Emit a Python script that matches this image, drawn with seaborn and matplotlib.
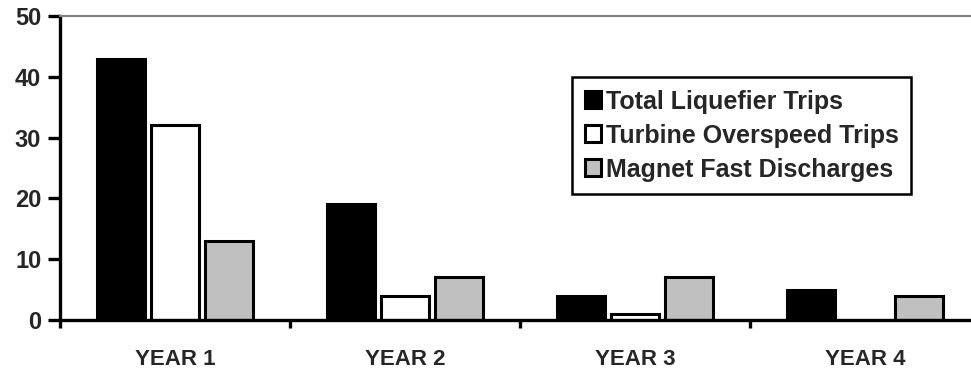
import numpy as np
import pandas as pd
import matplotlib
matplotlib.use("Agg")
import matplotlib.pyplot as plt
import seaborn as sns

years = ["YEAR 1", "YEAR 2", "YEAR 3", "YEAR 4"]
liquefier_trips = [43, 19, 4, 5]
overspeed_trips = [32, 4, 1, np.nan]
fast_discharges = [13, 7, 7, 4]
series_names = ["Total Liquefier Trips", "Turbine Overspeed Trips", "Magnet Fast Discharges"]
yticks = [0, 10, 20, 30, 40, 50]

df = pd.DataFrame({
    "year": years * 3,
    "count": liquefier_trips + overspeed_trips + fast_discharges,
    "series": [series_names[0]] * 4 + [series_names[1]] * 4 + [series_names[2]] * 4,
})

sns.set_style("white")
plt.rcParams["font.family"] = ["Liberation Sans", "DejaVu Sans"]
plt.rcParams["font.weight"] = "bold"

fig = plt.figure(figsize=(9.71, 3.72), dpi=100)
ax = fig.add_axes([60 / 971, 1 - 320 / 372, 920 / 971, 304 / 372])

sns.barplot(data=df, x="year", y="count", hue="series", hue_order=series_names,
            palette=["black", "white", "#c0c0c0"], edgecolor="black",
            linewidth=2.2, width=0.7, gap=0.1, saturation=1, ax=ax)

ax.set_ylim(0, 50)
ax.set_xlim(-0.5, 3.5)
ax.set_yticks(yticks)
ax.set_xlabel("")
ax.set_ylabel("")

for s in ["left", "bottom"]:
    ax.spines[s].set_color("black")
    ax.spines[s].set_linewidth(2.4)
ax.spines["top"].set_color("#808080")
ax.spines["top"].set_linewidth(1.5)
ax.spines["right"].set_visible(False)

ax.tick_params(axis="y", direction="out", length=8.5, width=2.4, color="black",
               labelsize=17, pad=5, left=True)
ax.tick_params(axis="x", which="major", length=0, labelsize=16, pad=21)
ax.set_xticks([-0.5, 0.5, 1.5, 2.5], minor=True)
ax.tick_params(axis="x", which="minor", direction="out", length=6, width=2.4,
               color="black", bottom=True)
for lab in ax.get_xticklabels() + ax.get_yticklabels():
    lab.set_fontweight("bold")

leg = ax.legend(loc="upper left", bbox_to_anchor=(572 / 971, 1 - 77 / 372),
                bbox_transform=fig.transFigure, frameon=True, fancybox=False,
                handlelength=0.66, handleheight=0.66, handletextpad=0.2,
                labelspacing=0.4, borderpad=0.5, borderaxespad=0,
                prop={"size": 18, "weight": "bold"})
leg.get_frame().set_edgecolor("black")
leg.get_frame().set_linewidth(1.8)
leg.get_frame().set_alpha(1)

fig.savefig("out.png", dpi=100)
